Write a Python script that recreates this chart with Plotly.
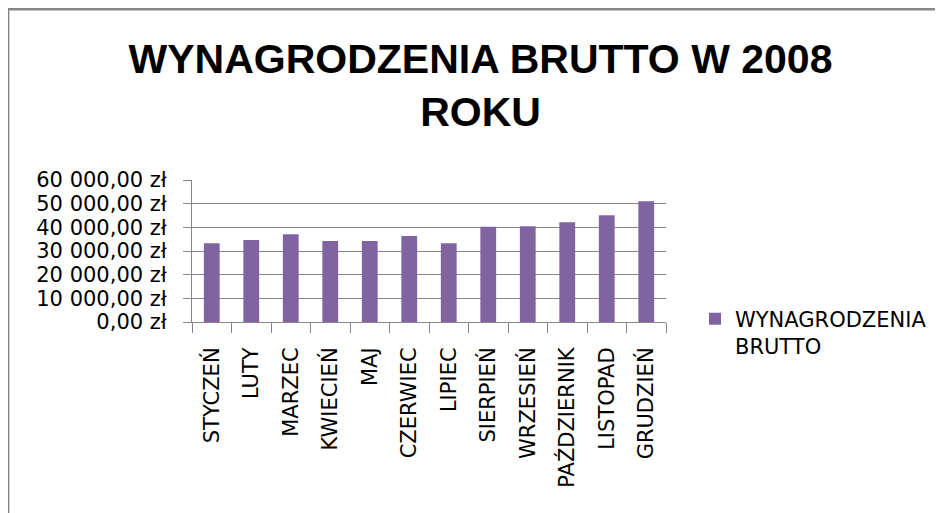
import plotly.graph_objects as go

months = ["STYCZEŃ", "LUTY", "MARZEC", "KWIECIEŃ", "MAJ", "CZERWIEC",
          "LIPIEC", "SIERPIEŃ", "WRZESIEŃ", "PAŹDZIERNIK", "LISTOPAD", "GRUDZIEŃ"]
salaries = [33300, 34600, 37100, 34200, 34200, 36300,
            33300, 40200, 40500, 42200, 45100, 51000]
y_tick_vals = [0, 10000, 20000, 30000, 40000, 50000, 60000]
y_tick_labels = ["0,00 zł", "10 000,00 zł", "20 000,00 zł", "30 000,00 zł",
                 "40 000,00 zł", "50 000,00 zł", "60 000,00 zł"]
series_name = "WYNAGRODZENIA<br>BRUTTO"
title_text = "WYNAGRODZENIA BRUTTO W 2008<br>ROKU"

# page body has an 8px margin, so figure coords = page coords - 8
OFF = 8
W, H = 943 - OFF, 513 - OFF
L, T = 192 - OFF, 180 - OFF
R = W - (667 - OFF)
B = H - (322 - OFF)
pw, ph = W - L - R, H - T - B

def px_x(x):
    return (x - OFF - L) / pw

def px_y(y):
    return (H - B - (y - OFF)) / ph

GRAY = "#868686"
TFONT = "Liberation Sans, Arial, sans-serif"
FONT = "DejaVu Sans, sans-serif"

fig = go.Figure()
fig.add_trace(go.Bar(x=months, y=salaries, name=series_name,
                     marker=dict(color="#8064A2", line=dict(width=0))))

fig.update_layout(
    width=W, height=H,
    margin=dict(l=L, r=R, t=T, b=B, pad=0),
    paper_bgcolor="white", plot_bgcolor="white",
    font=dict(family=FONT, size=21, color="black"),
    bargap=0.6,
    showlegend=True,
    title=dict(text=title_text, x=(480.5 - OFF) / W, xanchor="center",
               y=1 - 65 / H, yanchor="top", yref="container",
               font=dict(family=TFONT, size=41, color="black", weight="bold")),
    legend=dict(x=px_x(687 + OFF), xanchor="left", y=px_y(298.5), yanchor="top",
                valign="top", font=dict(size=21, family=FONT),
                bgcolor="rgba(0,0,0,0)", itemsizing="constant"),
    xaxis=dict(showline=True, linecolor=GRAY, linewidth=1,
               ticks="outside", ticklen=10, tickcolor=GRAY, tickwidth=1,
               tickson="boundaries", tickangle=-90, ticklabelstandoff=16,
               showgrid=False, tickfont=dict(size=21, family=FONT)),
    yaxis=dict(range=[0, 60000], tickvals=y_tick_vals, ticktext=y_tick_labels,
               showline=True, linecolor=GRAY, linewidth=1,
               ticks="outside", ticklen=8, tickcolor=GRAY, tickwidth=1,
               showgrid=True, gridcolor=GRAY, gridwidth=1,
               zeroline=False, ticklabelstandoff=12,
               tickfont=dict(size=21, family=FONT)),
    shapes=[dict(type="rect", xref="paper", yref="paper",
                 x0=px_x(7.5), x1=px_x(943 + 20), y0=px_y(513 + 20), y1=px_y(9),
                 line=dict(color=GRAY, width=3), fillcolor="rgba(0,0,0,0)",
                 layer="below")],
)

fig.write_html("out.html")
